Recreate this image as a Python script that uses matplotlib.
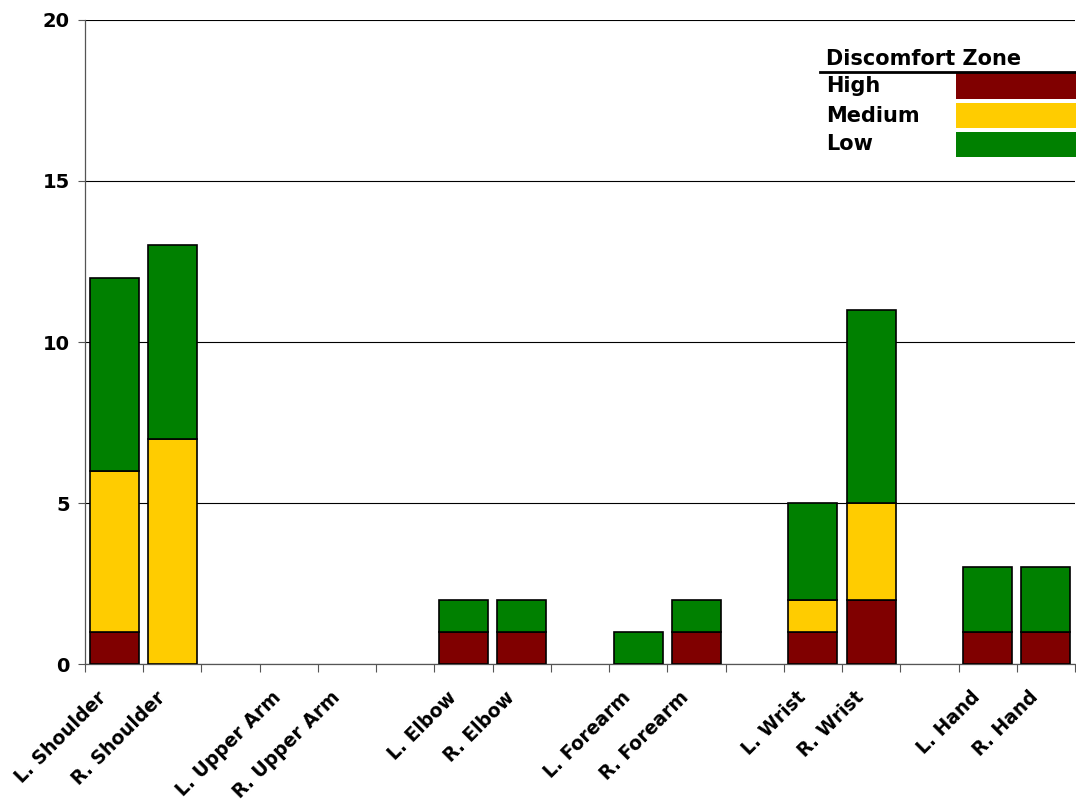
import numpy as np
import matplotlib
matplotlib.use('Agg')
import matplotlib.pyplot as plt
import matplotlib.transforms as mtransforms
from matplotlib.patches import Rectangle
from matplotlib.lines import Line2D

# one slot per category, empty strings are the spacer slots between pairs
categories = ['L. Shoulder', 'R. Shoulder', '', 'L. Upper Arm', 'R. Upper Arm', '',
              'L. Elbow', 'R. Elbow', '', 'L. Forearm', 'R. Forearm', '',
              'L. Wrist', 'R. Wrist', '', 'L. Hand', 'R. Hand']
high = [1, 0, 0, 0, 0, 0, 1, 1, 0, 0, 1, 0, 1, 2, 0, 1, 1]
medium = [5, 7, 0, 0, 0, 0, 0, 0, 0, 0, 0, 0, 1, 3, 0, 0, 0]
low = [6, 6, 0, 0, 0, 0, 1, 1, 0, 1, 1, 0, 3, 6, 0, 2, 2]

zones = ['High', 'Medium', 'Low']
colors = {'High': '#800000', 'Medium': '#FFCC00', 'Low': '#008000'}

plt.rcParams['font.family'] = 'DejaVu Sans'
plt.rcParams['font.weight'] = 'bold'

W, H = 1076, 805
fig = plt.figure(figsize=(W / 100, H / 100), dpi=100)
ax = fig.add_axes([85 / W, (H - 664) / H, (1075 - 85) / W, 644 / H])

x = np.arange(len(categories))
w = 0.84
high = np.array(high)
medium = np.array(medium)
low = np.array(low)
bottom = np.zeros(len(x))
for name, vals in zip(zones, [high, medium, low]):
    mask = vals > 0
    ax.bar(x[mask], vals[mask], w, bottom=bottom[mask], color=colors[name],
           edgecolor='black', linewidth=1.2, zorder=3)
    bottom = bottom + vals

ax.set_ylim(0, 20)
ax.set_xlim(-0.5, 16.5)
ax.set_yticks([0, 5, 10, 15, 20])
ax.yaxis.grid(True, color='black', linewidth=0.8, zorder=0)
ax.tick_params(axis='y', labelsize=14, length=5, width=0.8, color='#555555', pad=6)

ax.set_xticks(x)
ax.set_xticklabels(categories, rotation=45, ha='right', va='top',
                   rotation_mode='anchor', fontsize=13.5)
ax.tick_params(axis='x', which='major', length=0, pad=17)
offset = mtransforms.ScaledTranslation(-17 / 100, 0, fig.dpi_scale_trans)
for lab in ax.get_xticklabels():
    lab.set_transform(lab.get_transform() + offset)
ax.set_xticks(np.arange(-0.5, 17, 1), minor=True)
ax.tick_params(axis='x', which='minor', length=6, width=0.8, color='#555555')

for side in ['top', 'right']:
    ax.spines[side].set_visible(False)
for side in ['left', 'bottom']:
    ax.spines[side].set_color('#555555')
    ax.spines[side].set_linewidth(0.9)

# legend drawn as a small table in figure pixels
fig.text(826 / W, 1 - 59 / H, 'Discomfort Zone', fontsize=15, fontweight='bold',
         va='center', ha='left')
fig.add_artist(Line2D([820 / W, 1.0], [1 - 72 / H, 1 - 72 / H], color='black',
                      linewidth=2, transform=fig.transFigure))
rows = [(73, 99), (103, 128), (132, 157)]
for name, (t, b) in zip(zones, rows):
    fig.text(826 / W, 1 - (t + b) / 2 / H, name, fontsize=15, fontweight='bold',
             va='center', ha='left')
    fig.add_artist(Rectangle((956 / W, 1 - b / H), 120 / W, (b - t) / H,
                             facecolor=colors[name], edgecolor='none',
                             transform=fig.transFigure))

fig.savefig('out.png', dpi=100)
